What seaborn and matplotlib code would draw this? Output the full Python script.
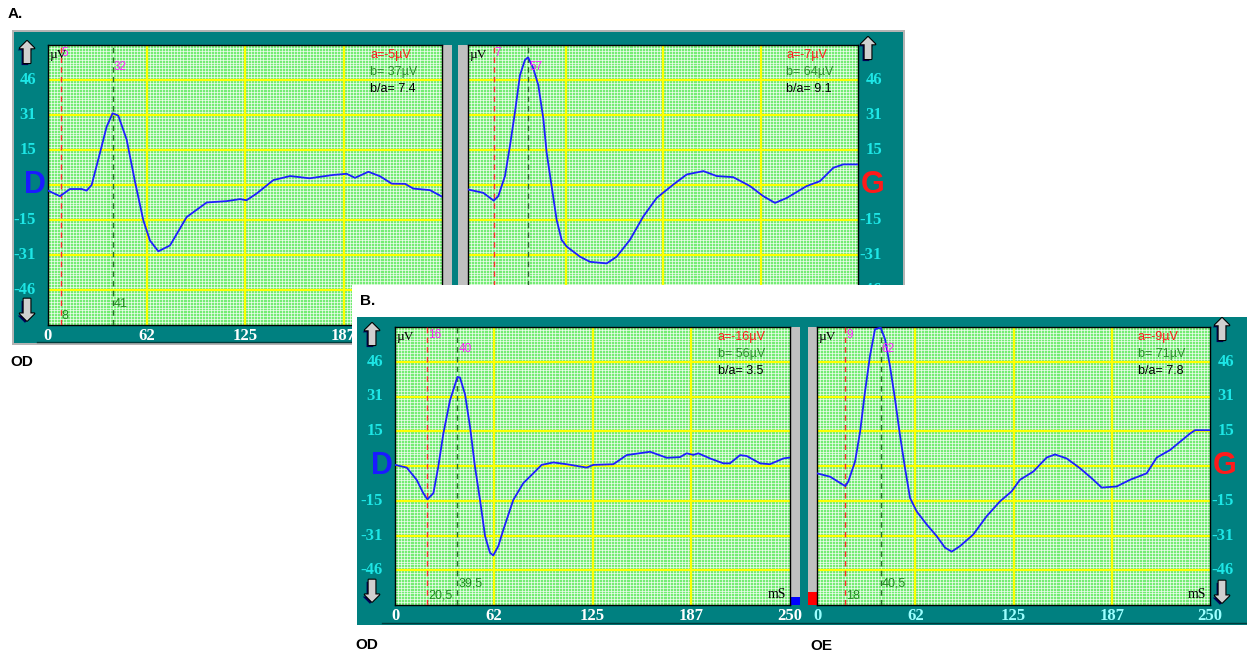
import matplotlib
matplotlib.use("Agg")
import numpy as np
import pandas as pd
import seaborn as sns
import matplotlib.pyplot as plt
import matplotlib.transforms as mtransforms
from matplotlib.patches import Rectangle
from matplotlib.ticker import MultipleLocator
import matplotlib.patheffects as pe

# ---------------- data ----------------
# A. OD (right eye, recording A)
t_A_OD = [0, 7.6, 13.9, 21.4, 24.5, 27.7, 33, 37.2, 41, 44.6, 49.9, 55.2, 60.5, 64.7, 70, 77.4,
          88, 100.7, 113.4, 121.8, 126, 132.4, 143, 153.6, 166, 181, 189.5, 194.8, 203.3, 210.7,
          218.1, 226.6, 231.8, 242.4, 250]
v_A_OD = [-2.5, -5, -1.8, -1.8, -2.5, 0, 14.4, 26, 32, 31, 20.3, 1.5, -15.8, -24.8, -29.6, -27,
          -14.3, -7.8, -7.2, -6.3, -6.8, -3.8, 2.2, 4, 3, 4.5, 5, 3.2, 5.9, 3.9,
          0.6, 0.5, -1.6, -2.3, -5.2]
# A. OE (left eye, recording A)
t_A_OE = [0, 9.8, 16.5, 19.4, 23.7, 26.9, 30.1, 33.3, 36.5, 38.5, 41.9, 45.1, 48.3, 50.4, 53.6,
          56.8, 60, 63.3, 71.8, 78.2, 88.9, 95.3, 103.8, 112.4, 120.9, 131.6, 140.2, 150.9, 159.4,
          170, 180.8, 189.3, 196.8, 204.3, 217, 225.6, 234.2, 240.6, 250]
v_A_OE = [-2, -3.5, -7, -5, 4, 17.5, 32.5, 49, 55.8, 57, 52, 44.5, 29.5, 14.5, -0.5,
          -15.5, -24.5, -27.5, -32, -34.3, -35, -32, -24.5, -14, -5.8, 0.2, 4.7, 6.2, 4,
          3.5, -0.5, -5, -8, -5.8, -0.5, 1.7, 7.7, 9.2, 9.2]
# B. OD
t_B_OD = [0, 7.4, 13.7, 17.9, 20.5, 24.3, 27.4, 30.6, 34.8, 39.5, 41.1, 44.3, 47.5, 50.6, 53.8,
          57, 60.1, 62.2, 65.4, 68.6, 74.9, 81.2, 87.5, 92.8, 100.2, 108.6, 121.3, 125.5, 138.2,
          146.6, 161.4, 172, 180.4, 184.6, 188.8, 192, 199.4, 207.8, 212, 218.4, 222.6, 231,
          237.3, 245.8, 250]
v_B_OD = [0.5, -0.7, -6.2, -12.2, -15, -12.2, -0.3, 14.6, 29.5, 40, 39.8, 32.3, 17.6, -0.3, -15.2,
          -31.5, -39, -40.2, -36, -28.6, -15.2, -7.7, -3.3, 0.5, 1.6, 0.8, -0.7, 0.5, 0.8,
          4.9, 6.4, 3.7, 4, 5.7, 5, 5.7, 3.4, 1.2, 1.2, 4.9, 4.5, 1.2,
          0.8, 3.4, 3.8]
# B. OE
t_B_OE = [0, 8.3, 16.7, 18, 19.9, 24.2, 27.4, 30.5, 33.7, 36.9, 40.5, 43.3, 46.4, 49.6, 52.8,
          56, 59.2, 63.4, 69.8, 76.1, 81.4, 85.7, 91, 99.4, 107.9, 116.4, 123.8, 129.1, 137.6,
          146.1, 151.4, 158.8, 167.3, 174.7, 181.1, 190.6, 199.1, 209.7, 216.1, 224.6, 237.3,
          240.5, 250]
v_B_OE = [-3.3, -4.8, -8.5, -9, -7, 2, 15.3, 33.2, 49.5, 61.5, 62.2, 57, 45, 30.2, 13.8,
          -1, -14.4, -20.4, -26.3, -31.5, -36.7, -38.5, -36, -30.8, -22.6, -15.9, -11.4, -6.2, -2.5,
          3.8, 5.2, 3.4, -1, -5.5, -9.7, -9.2, -6.2, -3.3, 3.8, 7.2, 14.6,
          16.1, 16.1]

a_amp = [-5, -7, -16, -9]
b_amp = [37, 64, 56, 71]
ba_ratio = ["7.4", "9.1", "3.5", "7.8"]
a_lat = [8, 16.5, 20.5, 18]
b_lat = [41, 38.5, 39.5, 40.5]
a_lat_lbl = ["8", "16,5", "20,5", "18"]
b_lat_lbl = ["41", "38,5", "39,5", "40,5"]
a_top_lbl = ["5", "7", "16", "9"]
b_top_lbl = ["32", "57", "40", "62"]
x_ticks = [0, 62.5, 125, 187.5, 250]
x_tick_labels = ["0", "62", "125", "187", "250"]
y_ticks = [46.875, 31.25, 15.625, -15.625, -31.25, -46.875]
y_tick_labels = ["46", "31", "15", "-15", "-31", "-46"]

# ---------------- style ----------------
W, H = 1247, 654
TEAL = "#008080"
BG = "#74ec74"
CURVE = "#1e1eff"
YLAB = "#1ee6e6"
SERIF = "Liberation Serif"
SANS = "Liberation Sans"

fig = plt.figure(figsize=(W / 100, H / 100), dpi=100)


def rect(x0, y0, x1, y1):
    return [x0 / W, 1 - y1 / H, (x1 - x0) / W, (y1 - y0) / H]


def overlay():
    ax = fig.add_axes([0, 0, 1, 1])
    ax.set_xlim(0, W)
    ax.set_ylim(H, 0)
    ax.axis("off")
    return ax


def box(ax, x0, y0, x1, y1, color):
    ax.add_patch(Rectangle((x0, y0), x1 - x0, y1 - y0, facecolor=color, edgecolor="none"))


ARROW_FX = [pe.SimplePatchShadow(offset=(-1.5, -1.5), shadow_rgbFace="#00005a", alpha=1.0),
            pe.withStroke(linewidth=1.6, foreground="black")]


def plot_panel(bx, t, v, i, side, xlabcol, show_ms, arrow_dx, arrow_top, arrow_bot):
    x0, y0, x1, y1 = bx
    wpx, hpx = x1 - x0, y1 - y0
    fx = lambda p: p / wpx
    fy = lambda p: p / hpx
    ax = fig.add_axes(rect(x0, y0, x1, y1))
    ax.set_facecolor(BG)
    df = pd.DataFrame({"t": t, "v": v})
    sns.lineplot(data=df, x="t", y="v", ax=ax, color=CURVE, linewidth=1.3, sort=False, zorder=5)
    ax.set_xlim(0, 250)
    ax.set_ylim(-62.5, 62.5)
    ax.set_xlabel("")
    ax.set_ylabel("")
    ax.xaxis.set_minor_locator(MultipleLocator(250 / 128))
    ax.yaxis.set_minor_locator(MultipleLocator(125 / 96))
    ax.set_xticks(x_ticks, x_tick_labels)
    ax.set_yticks(np.arange(-62.5, 62.6, 15.625))
    ax.tick_params(which="both", length=0, labelleft=False)
    ax.tick_params(axis="x", pad=2.5, labelcolor=xlabcol, labelsize=12)
    for lab in ax.get_xticklabels():
        lab.set_fontfamily(SERIF)
        lab.set_fontweight("bold")
    ax.grid(which="minor", color="white", linewidth=0.45)
    ax.grid(which="major", visible=False)
    for xv in x_ticks[1:-1]:
        ax.axvline(xv, color="#ffff00", linewidth=1.6, zorder=2)
    for yv in np.arange(-46.875, 47, 15.625):
        ax.axhline(yv, color="#ffff00", linewidth=1.6, zorder=2)
    for s in ax.spines.values():
        s.set_color("black")
        s.set_linewidth(1.0)

    # a / b markers
    ax.axvline(a_lat[i], color="#ff2a2a", linewidth=1.0, linestyle=(0, (4, 3)), zorder=3)
    ax.axvline(b_lat[i], color="#2a6a2a", linewidth=1.0, linestyle=(0, (4, 3)), zorder=3)
    bt = mtransforms.blended_transform_factory(ax.transData, ax.transAxes)
    d1 = 250 / wpx
    ax.text(a_lat[i] + d1, 1 - fy(8), a_top_lbl[i], transform=bt, ha="left", va="center",
            color="#ff22ff", fontsize=8.5, family=SANS, zorder=6)
    ax.text(b_lat[i] + d1, 1 - fy(22), b_top_lbl[i], transform=bt, ha="left", va="center",
            color="#ff22ff", fontsize=8.5, family=SANS, zorder=6)
    ax.text(a_lat[i] + d1, fy(9), a_lat_lbl[i], transform=bt, ha="left", va="center",
            color="#1f8a1f", fontsize=9, family=SANS, zorder=6)
    ax.text(b_lat[i] + d1, fy(21), b_lat_lbl[i], transform=bt, ha="left", va="center",
            color="#1f8a1f", fontsize=9, family=SANS, zorder=6)

    # amplitude box
    ax.text(1 - fx(72), 1 - fy(10), f"a={a_amp[i]}µV", transform=ax.transAxes, ha="left",
            va="center", color="#ff1a1a", fontsize=9, family=SANS, zorder=6)
    ax.text(1 - fx(72), 1 - fy(27), f"b= {b_amp[i]}µV", transform=ax.transAxes, ha="left",
            va="center", color="#2e8b2e", fontsize=9, family=SANS, zorder=6)
    ax.text(1 - fx(72), 1 - fy(44), f"b/a= {ba_ratio[i]}", transform=ax.transAxes, ha="left",
            va="center", color="black", fontsize=9, family=SANS, zorder=6)

    ax.text(fx(2), 1 - fy(10), "µV", transform=ax.transAxes, ha="left", va="center",
            color="black", fontsize=9.5, family=SERIF, zorder=6)
    if show_ms:
        ax.text(1 - fx(4), fy(11), "mS", transform=ax.transAxes, ha="right", va="center",
                color="black", fontsize=10, family=SERIF, zorder=6)

    # y tick labels, side letter and arrows (outside the plot)
    yt = mtransforms.blended_transform_factory(ax.transAxes, ax.transData)
    if side == "left":
        lx, letter, lcol, lx2 = -fx(12), "D", "#1a1aff", -fx(13)
    else:
        lx, letter, lcol, lx2 = 1 + fx(24), "G", "#ff1a1a", 1 + fx(15)
    for yv, yl in zip(y_ticks, y_tick_labels):
        ax.text(lx, yv, yl, transform=yt, ha="right", va="center", color=YLAB,
                fontsize=12, family=SERIF, fontweight="bold")
    ax.text(lx2, 0, letter, transform=yt, ha="center", va="center", color=lcol,
            fontsize=22, family=SANS, fontweight="bold")
    ax_x = (-fx(arrow_dx)) if side == "left" else 1 + fx(arrow_dx)
    ax.text(ax_x, 1 - fy(arrow_top), "⬆", transform=ax.transAxes, ha="center", va="center",
            color="#d0d0d0", fontsize=21, family="DejaVu Sans", path_effects=ARROW_FX)
    ax.text(ax_x, fy(arrow_bot), "⬇", transform=ax.transAxes, ha="center", va="center",
            color="#d0d0d0", fontsize=21, family="DejaVu Sans", path_effects=ARROW_FX)
    return ax


# ---------------- recording A ----------------
gA = overlay()
box(gA, 12, 30, 905, 345, "#b4b4b4")
box(gA, 14, 32, 903, 343, TEAL)
gA.plot([37, 903], [341.5, 341.5], color="#003c3c", linewidth=1.0)
box(gA, 442, 45, 452, 325, "#c0c0c0")
box(gA, 458, 45, 468, 325, "#c0c0c0")
box(gA, 442, 317, 452, 325, "#0000ff")
box(gA, 458, 312, 468, 325, "#ff0000")
gA.text(8, 14, "A.", ha="left", va="center", fontsize=11, fontweight="bold", family=SANS)
gA.text(10, 362, "OD", ha="left", va="center", fontsize=11, fontweight="bold", family=SANS)

plot_panel((48, 45, 442, 325), t_A_OD, v_A_OD, 0, "left", "white", False, 21, 10, 13)
plot_panel((468, 45, 858, 325), t_A_OE, v_A_OE, 1, "right", "#9cffff", False, 10, 6, 13)

# ---------------- recording B ----------------
gB = overlay()
box(gB, 352, 285, 1247, 654, "white")
gB.text(360, 301, "B.", ha="left", va="center", fontsize=11, fontweight="bold", family=SANS)
box(gB, 357, 317, 1247, 625, TEAL)
gB.plot([382, 1247], [622.5, 622.5], color="#003c3c", linewidth=1.0)
box(gB, 790, 327, 800, 605, "#c0c0c0")
box(gB, 808, 327, 817, 605, "#c0c0c0")
box(gB, 790, 597, 800, 605, "#0000ff")
box(gB, 808, 592, 817, 605, "#ff0000")
gB.text(355, 645, "OD", ha="left", va="center", fontsize=11, fontweight="bold", family=SANS)
gB.text(810, 646, "OE", ha="left", va="center", fontsize=11, fontweight="bold", family=SANS)

plot_panel((395, 327, 790, 605), t_B_OD, v_B_OD, 2, "left", "white", True, 23, 10, 12)
plot_panel((817, 327, 1210, 605), t_B_OE, v_B_OE, 3, "right", "#9cffff", True, 12, 5, 11)

fig.savefig("out.png", dpi=100, facecolor="white")
